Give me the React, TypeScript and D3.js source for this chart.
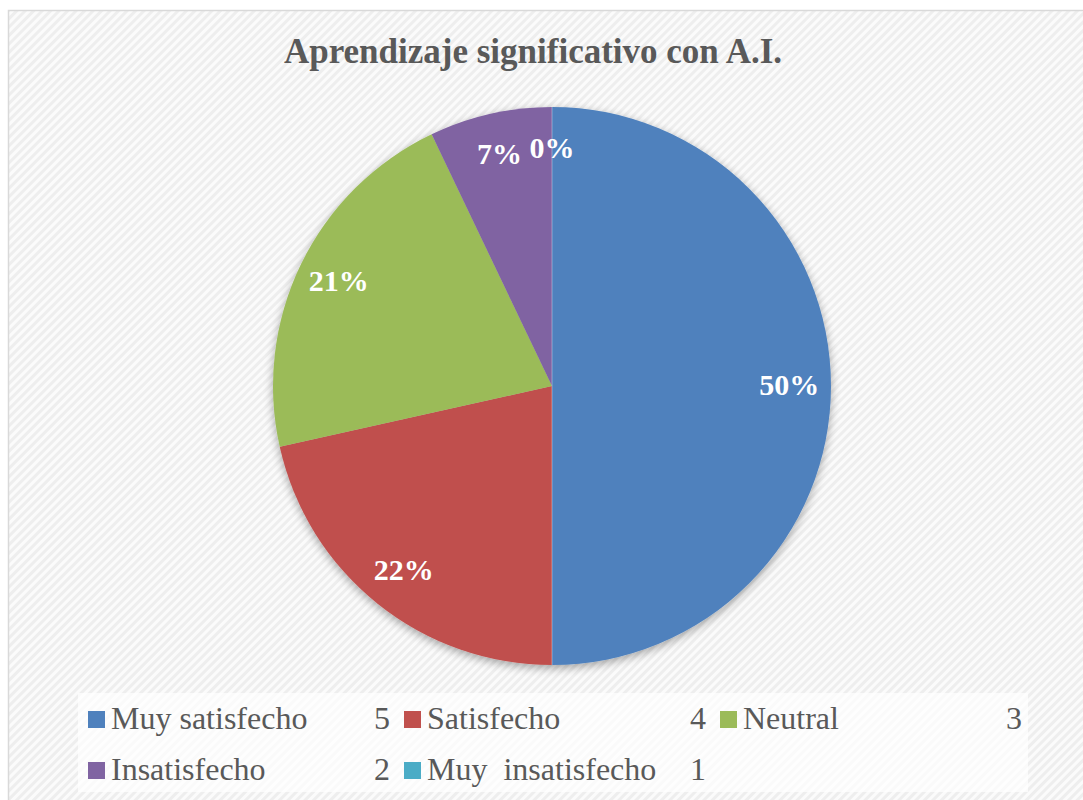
import React from 'react';
import * as d3 from 'd3';

const TITLE = 'Aprendizaje significativo con A.I.';
const CATEGORIES = ['Muy satisfecho', 'Satisfecho', 'Neutral', 'Insatisfecho', 'Muy  insatisfecho'];
const CODES = ['5', '4', '3', '2', '1'];
// shares; labels show them rounded
const PERCENTS = [50, 21.5, 21.4, 7.1, 0];
const COLORS = ['#4f81bd', '#c0504d', '#9bbb59', '#8064a2', '#4bacc6'];

const W = 1083;
const H = 800;
const CX = 552;
const CY = 386;
const R = 279;
const FONT = '"Liberation Serif", "Times New Roman", Times, serif';

export default function App()
{
    const pie = d3.pie<number>().sort(null).value((d) => d);
    const arcs = pie(PERCENTS);
    const arc = d3.arc<d3.PieArcDatum<number>>().innerRadius(0).outerRadius(R);
    const labelArc = d3.arc<d3.PieArcDatum<number>>().innerRadius(R * 0.85).outerRadius(R * 0.85);

    // legend grid: 3 columns
    const col = d3.scaleLinear().domain([0, 1]).range([88, 404]);
    const row = d3.scaleLinear().domain([0, 1]).range([729, 780]);

    return (
        <svg width={ W } height={ H } style={ { position: 'absolute', left: 0, top: 0 } }>
            <defs>
                <pattern id="hatch" width="6" height="6" patternUnits="userSpaceOnUse" patternTransform="rotate(-45)">
                    <rect width="6" height="6" fill="#fbfbfb" />
                    <rect width="6" height="3" fill="#eeeeee" />
                </pattern>
                <filter id="shadow" x="-20%" y="-20%" width="140%" height="140%">
                    <feGaussianBlur in="SourceAlpha" stdDeviation="5" />
                    <feOffset dx="0" dy="3" result="b" />
                    <feComponentTransfer>
                        <feFuncA type="linear" slope="0.35" />
                    </feComponentTransfer>
                    <feMerge>
                        <feMergeNode />
                        <feMergeNode in="SourceGraphic" />
                    </feMerge>
                </filter>
            </defs>
            <rect x={ 0 } y={ 0 } width={ W } height={ H } fill="#ffffff" />
            <rect x={ 8.5 } y={ 10.5 } width={ W } height={ H } fill="url(#hatch)" stroke="#d9d9d9" strokeWidth={ 1.5 } />

            <text x={ 533 } y={ 63 } textAnchor="middle" fontFamily={ FONT } fontWeight="bold" fontSize={ 35 } fill="#595959">
                { TITLE }
            </text>

            <g transform={ `translate(${ CX },${ CY })` }>
                <g filter="url(#shadow)">
                    { arcs.map((a, i) => (
                        <path key={ i } d={ arc(a) || '' } fill={ COLORS[i] } />
                    )) }
                </g>
                <line x1={ 0 } y1={ -R } x2={ 0 } y2={ R } stroke="#ffffff" strokeOpacity={ 0.35 } strokeWidth={ 1 } />
                { arcs.map((a, i) =>
                {
                    const [lx, ly] = labelArc.centroid(a);
                    return (
                        <text key={ i } x={ lx } y={ ly } dy="0.3em" textAnchor="middle" fontFamily={ FONT } fontWeight="bold" fontSize={ 30 } fill="#ffffff">
                            { `${ Math.round(PERCENTS[i]) }%` }
                        </text>
                    );
                }) }
            </g>

            <rect x={ 78 } y={ 693 } width={ 950 } height={ 99 } fill="#ffffff" fillOpacity={ 0.7 } />
            { CATEGORIES.map((c, i) =>
            {
                const cx = col(i % 3);
                const ry = row(Math.floor(i / 3));
                return (
                    <g key={ c }>
                        <rect x={ cx } y={ ry - 18 } width={ 17 } height={ 17 } fill={ COLORS[i] } />
                        <text x={ cx + 23 } y={ ry } fontFamily={ FONT } fontSize={ 32 } fill="#595959" style={ { whiteSpace: 'pre' } }>
                            { c }
                        </text>
                        <text x={ cx + 302 } y={ ry } textAnchor="end" fontFamily={ FONT } fontSize={ 32 } fill="#595959">
                            { CODES[i] }
                        </text>
                    </g>
                );
            }) }
        </svg>
    );
}
